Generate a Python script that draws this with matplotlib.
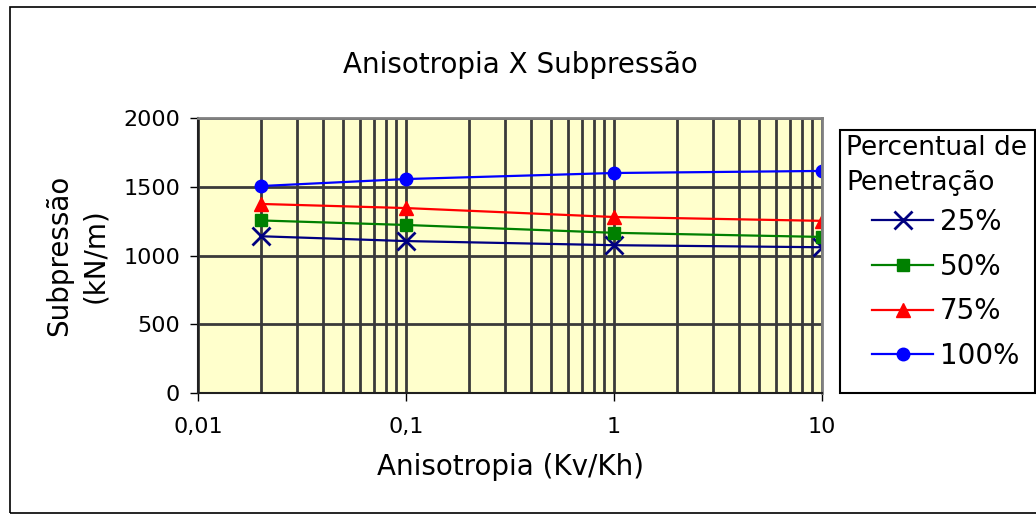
import matplotlib
matplotlib.use("Agg")
import matplotlib.pyplot as plt
from matplotlib.patches import Rectangle
from matplotlib.ticker import FixedLocator, FixedFormatter, LogLocator, NullFormatter

# dados
anisotropia = [0.02, 0.1, 1, 10]
sub_25 = [1140, 1105, 1075, 1060]
sub_50 = [1255, 1222, 1165, 1135]
sub_75 = [1375, 1345, 1280, 1252]
sub_100 = [1505, 1556, 1600, 1615]

x_ticks = [0.01, 0.1, 1, 10]
x_labels = ["0,01", "0,1", "1", "10"]
y_ticks = [0, 500, 1000, 1500, 2000]

W, H = 1036, 515
fig = plt.figure(figsize=(W/100, H/100), dpi=100)
ax = fig.add_axes([198/W, 1 - 393/H, 624/W, 275/H])

ax.set_facecolor("#FFFFCC")
ax.set_xscale("log")
ax.set_xlim(0.01, 10)
ax.set_ylim(0, 2000)

ax.plot(anisotropia, sub_25, '-', color="#000080", marker='x', markersize=13, mew=2, lw=1.6, label="25%")
ax.plot(anisotropia, sub_50, '-', color="#008000", marker='s', markersize=9, lw=1.6, label="50%")
ax.plot(anisotropia, sub_75, '-', color="#FF0000", marker='^', markersize=10, lw=1.6, label="75%")
ax.plot(anisotropia, sub_100, '-', color="#0000FF", marker='o', markersize=9, lw=1.6, label="100%")

ax.xaxis.set_major_locator(FixedLocator(x_ticks))
ax.xaxis.set_major_formatter(FixedFormatter(x_labels))
ax.xaxis.set_minor_locator(LogLocator(base=10, subs=range(2, 10)))
ax.xaxis.set_minor_formatter(NullFormatter())
ax.set_yticks(y_ticks)

ax.grid(True, which="both", axis="x", color="#3a3a3a", lw=2, zorder=0)
ax.grid(True, which="major", axis="y", color="#3a3a3a", lw=2, zorder=0)
ax.set_axisbelow(True)

ax.tick_params(axis="both", which="major", direction="out", length=6, width=1, labelsize=16, colors="black")
ax.tick_params(axis="x", which="minor", length=0)
ax.tick_params(axis="x", pad=11)
ax.tick_params(axis="y", pad=7)
for s in ["top", "right"]:
    ax.spines[s].set_color("#808080")
    ax.spines[s].set_linewidth(2)
for s in ["left", "bottom"]:
    ax.spines[s].set_color("#202020")
    ax.spines[s].set_linewidth(1.5)

ax.set_xlabel("Anisotropia (Kv/Kh)", fontsize=20, labelpad=12)
ax.set_ylabel("Subpressão\n(kN/m)", fontsize=20, labelpad=10, linespacing=1.35)
fig.text(520/W, 1 - 65/H, "Anisotropia X Subpressão", fontsize=20, ha="center", va="center")

# caixa da legenda com titulo
fig.patches.append(Rectangle((840/W, 1 - 393/H), 195/W, 263/H,
                             transform=fig.transFigure, facecolor="white",
                             edgecolor="black", lw=1.5, zorder=-1))
fig.text(846/W, 1 - 135/H, "Percentual de\nPenetração", fontsize=19,
         ha="left", va="top", linespacing=1.45)

leg = ax.legend(loc="upper left", bbox_to_anchor=(872/W, 1 - 208/H),
                bbox_transform=fig.transFigure, fontsize=20, frameon=False,
                handlelength=2.2, handletextpad=0.25, labelspacing=0.6,
                borderaxespad=0, borderpad=0)

# moldura do grafico
fig.patches.append(Rectangle((10/W, 1 - 513/H), 1030/W, 506/H,
                             transform=fig.transFigure, fill=False,
                             edgecolor="black", lw=1.2))

fig.savefig("out.png", dpi=100)
